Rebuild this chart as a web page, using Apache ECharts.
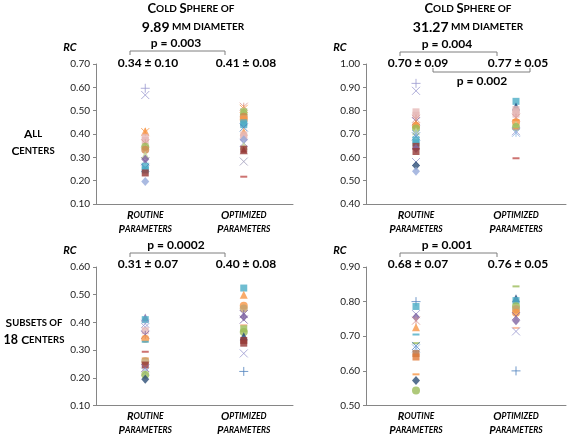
<!DOCTYPE html>
<html><head><meta charset="utf-8">
<script src="https://cdn.jsdelivr.net/npm/echarts@6/dist/echarts.min.js"></script>
<style>html,body{margin:0;padding:0;background:#fff}#c{width:567px;height:436px}</style>
</head><body><div id="c"></div>
<script>
// ---------- DATA ----------
const categories = ['Routine', 'Optimized'];
// Top-left: 9.89 mm, all centers
const tlRoutine    = [0.596,0.567,0.412,0.408,0.386,0.372,0.360,0.345,0.332,0.310,0.292,0.283,0.262,0.255,0.246,0.233,0.196];
const tlRoutineMk  = ['pL','xL','tO','sO','qP','qP','sK','cG','cB','tG','dP','xP','qT','xB','qT','qR','dL'];
const tlOptim      = [0.517,0.508,0.500,0.495,0.485,0.474,0.462,0.448,0.440,0.428,0.410,0.396,0.386,0.375,0.362,0.350,0.335,0.330,0.282,0.217];
const tlOptimMk    = ['sK','sO','tG','qG','hG','cB','cO','qT','qT','xB','tO','qP','qP','dL','xL','tG','qR','tR','xG','hR'];
// Top-right: 31.27 mm, all centers
const trRoutine    = [0.917,0.885,0.795,0.780,0.765,0.755,0.745,0.735,0.724,0.712,0.700,0.690,0.675,0.662,0.647,0.638,0.625,0.580,0.565,0.540];
const trRoutineMk  = ['pL','xL','qP','qP','sK','xP','tO','cO','cG','tG','sB','xB','qT','qT','qR','dP','qR','xL','dB','dL'];
const trOptim      = [0.840,0.818,0.805,0.795,0.785,0.770,0.760,0.750,0.740,0.730,0.722,0.712,0.705,0.596];
const trOptimMk    = ['qT','tB','qP','qP','qP','sK','hO','cO','tG','cG','hO','xL','sB','hR'];
// Bottom-left: 9.89 mm, subset of 18 centers
const blRoutine    = [0.418,0.410,0.395,0.383,0.370,0.355,0.341,0.330,0.294,0.270,0.260,0.246,0.235,0.222,0.211,0.195];
const blRoutineMk  = ['tP','qT','xL','xL','qP','sP','cO','hT','hR','hO','cT','qR','xP','sB','cG','dB'];
const blOptim      = [0.524,0.500,0.460,0.450,0.430,0.420,0.410,0.390,0.377,0.365,0.350,0.335,0.325,0.288,0.223];
const blOptimMk    = ['qT','tO','cO','cT','sP','dP','xP','hS','qG','cG','tB','qR','qR','xL','pB'];
// Bottom-right: 31.27 mm, subset of 18 centers
const brRoutine    = [0.800,0.786,0.764,0.755,0.745,0.726,0.705,0.680,0.672,0.665,0.650,0.640,0.590,0.572,0.543];
const brRoutineMk  = ['pB','qT','xL','dP','sK','tO','hT','hG','xB','sB','qBr','qO','hO','dB','cG'];
const brOptim      = [0.844,0.810,0.803,0.787,0.778,0.768,0.758,0.745,0.724,0.714,0.600];
const brOptimMk    = ['hG','tB','qT','cG','cT','cO','xP','dP','hS','xL','pB'];

const meanLabels = ['0.34 \u00b1 0.10','0.41 \u00b1 0.08','0.70 \u00b1 0.09','0.77 \u00b1 0.05',
                    '0.31 \u00b1 0.07','0.40 \u00b1 0.08','0.68 \u00b1 0.07','0.76 \u00b1 0.05'];
const pLabels = ['p = 0.003','p = 0.004','p = 0.002','p = 0.0002','p = 0.001'];
const yRanges = [[0.1,0.7],[0.4,1.0],[0.1,0.6],[0.5,0.9]];

// ---------- STYLE ----------
const COLORS = {L:'#9a98cf',O:'#f79646',P:'#e6b9b8',K:'#d99694',G:'#9bbb59',B:'#4f81bd',T:'#4bacc6',R:'#953735',
  D:'#2c4d75',b:'#1f497d',C:'#c4a36e',S:'#fab08c',X:'#a09cbc',r:'#c0504d',y:'#b16f45',o:'#e07b39',p:'#8064a2',
  l:'#95a9d9',g:'#c3d69b',c:'#d08a50',s:'#8db4e2'};
const KEYMAP = {pL:['p','L'],xL:['x','L'],tO:['t','O'],sO:['s','O'],qP:['q','P'],sK:['s','K'],cG:['c','G'],cB:['c','c'],
  tG:['t','g'],dP:['d','p'],xP:['x','p'],qT:['q','T'],xB:['x','B'],qR:['q','R'],dL:['d','l'],qG:['q','G'],hG:['h','G'],
  cO:['c','O'],tR:['t','R'],xG:['x','X'],hR:['h','r'],tB:['t','b'],hO:['h','O'],sB:['s','s'],dB:['d','D'],tP:['t','p'],
  sP:['s','p'],hT:['h','T'],cT:['c','C'],hS:['h','S'],pB:['p','B'],qBr:['q','y'],qO:['q','o']};
function marker(key){
  const [shape, ck] = KEYMAP[key]; const col = COLORS[ck];
  switch(shape){
    case 'd': return {symbol:'diamond',symbolSize:[8,9],itemStyle:{color:col}};
    case 'q': return {symbol:'rect',symbolSize:7,itemStyle:{color:col}};
    case 't': return {symbol:'triangle',symbolSize:[8,8],itemStyle:{color:col}};
    case 'c': return {symbol:'circle',symbolSize:8,itemStyle:{color:col}};
    case 'h': return {symbol:'rect',symbolSize:[7,2],itemStyle:{color:col}};
    case 'x': return {symbol:'path://M0,0L10,10M10,0L0,10',symbolSize:8,itemStyle:{color:'rgba(0,0,0,0)',borderColor:col,borderWidth:1}};
    case 's': return {symbol:'path://M0,0L10,10M10,0L0,10M5,0L5,10',symbolSize:8,itemStyle:{color:'rgba(0,0,0,0)',borderColor:col,borderWidth:1}};
    case 'p': return {symbol:'path://M5,0L5,10M0,5L10,5',symbolSize:9,itemStyle:{color:'rgba(0,0,0,0)',borderColor:col,borderWidth:1}};
  }
}
function pts(routine, rMk, optim, oMk){
  const out = [];
  routine.forEach((v,i)=>out.push(Object.assign({value:[0,v]}, marker(rMk[i]))));
  optim.forEach((v,i)=>out.push(Object.assign({value:[1,v]}, marker(oMk[i]))));
  return out;
}

const FONT = 'Lato, "Open Sans", sans-serif';
const grids = [
  {left:96, top:64, width:197, height:140},
  {left:366, top:64, width:200, height:140},
  {left:96, top:267, width:197, height:141},
  {left:366, top:267, width:200, height:141}
];
const xLabelRich = {a:{fontSize:11,fontWeight:'bold',fontStyle:'italic',fontFamily:FONT,color:'#000',lineHeight:14,align:'center'},
                    b:{fontSize:8.5,fontWeight:'bold',fontStyle:'italic',fontFamily:FONT,color:'#000',lineHeight:14,align:'center'}};
const xAxes = grids.map((g,i)=>({type:'category',gridIndex:i,data:categories,boundaryGap:true,
  axisLine:{lineStyle:{color:'#868686',width:1}},axisTick:{show:false},
  axisLabel:{margin:4,interval:0,align:'center',formatter:v=> v==='Routine' ? '{a|R}{b|OUTINE}\n{a|P}{b|ARAMETERS}' : '{a|O}{b|PTIMIZED}\n{a|P}{b|ARAMETERS}', rich:xLabelRich}}));
const yAxes = grids.map((g,i)=>({type:'value',gridIndex:i,min:yRanges[i][0],max:yRanges[i][1],interval:0.1,
  axisLine:{show:true,lineStyle:{color:'#868686',width:1}},axisTick:{show:true,length:3,lineStyle:{color:'#868686'}},
  splitLine:{show:false},
  axisLabel:{fontSize:10,color:'#222',fontFamily:FONT,margin:6,formatter:v=>v.toFixed(2)}}));
const seriesData = [
  pts(tlRoutine,tlRoutineMk,tlOptim,tlOptimMk),
  pts(trRoutine,trRoutineMk,trOptim,trOptimMk),
  pts(blRoutine,blRoutineMk,blOptim,blOptimMk),
  pts(brRoutine,brRoutineMk,brOptim,brOptimMk)
];
const series = seriesData.map((d,i)=>({type:'scatter',xAxisIndex:i,yAxisIndex:i,data:d,animation:false}));

// ---------- ANNOTATIONS ----------
function txt(x,y,text,size,opts){
  return Object.assign({type:'text',x:x,y:y,style:Object.assign({text:text,fontSize:size,fontWeight:'bold',fontFamily:FONT,
    fill:'#000',align:'center',verticalAlign:'middle'}, opts||{})});
}
function rtxt(x,y,text,rich){
  return {type:'text',x:x,y:y,style:{text:text,rich:rich,align:'center',verticalAlign:'middle',fontFamily:FONT}};
}
const sc = {a:{fontSize:13,fontWeight:'bold',fontFamily:FONT,color:'#000'},
            b:{fontSize:10,fontWeight:'bold',fontFamily:FONT,color:'#000'},
            n:{fontSize:14,fontWeight:'bold',fontFamily:FONT,color:'#000'}};
const sr = {a:{fontSize:12,fontWeight:'bold',fontFamily:FONT,color:'#000'},
            b:{fontSize:9.5,fontWeight:'bold',fontFamily:FONT,color:'#000'},
            n:{fontSize:12.5,fontWeight:'bold',fontFamily:FONT,color:'#000'}};
function bracket(x1,x2,y,dir){
  return {type:'polyline',shape:{points:[[x1,y+4*dir],[x1,y],[x2,y],[x2,y+4*dir]]},style:{stroke:'#7f7f7f',lineWidth:1,fill:null}};
}
const graphic = [
  rtxt(191,9,'{a|C}{b|OLD }{a|S}{b|PHERE OF}',sc),
  rtxt(193,27,'{n|9.89}{b| MM DIAMETER}',sc),
  rtxt(468,9,'{a|C}{b|OLD }{a|S}{b|PHERE OF}',sc),
  rtxt(468,27,'{n|31.27}{b| MM DIAMETER}',sc),
  rtxt(33,134,'{a|A}{b|LL}',sr),
  rtxt(33,151,'{a|C}{b|ENTERS}',sr),
  rtxt(34,323,'{a|S}{b|UBSETS OF}',sr),
  rtxt(34,340,'{n|18} {a|C}{b|ENTERS}',sr),
  txt(70,47,'RC',11,{fontStyle:'italic'}),
  txt(340,47,'RC',11,{fontStyle:'italic'}),
  txt(70,250,'RC',11,{fontStyle:'italic'}),
  txt(340,250,'RC',11,{fontStyle:'italic'}),
  // top-left
  txt(176,43,pLabels[0],12), bracket(130,225,51,1),
  txt(148,63,meanLabels[0],12), txt(246,63,meanLabels[1],12),
  // top-right
  txt(447,44,pLabels[1],12), bracket(400,497,52,1),
  txt(418,63,meanLabels[2],12), txt(518,63,meanLabels[3],12),
  bracket(433,530,72,-1), txt(482,81,pLabels[2],12),
  // bottom-left
  txt(176,245,pLabels[3],12), bracket(130,225,253,1),
  txt(148,264,meanLabels[4],12), txt(246,264,meanLabels[5],12),
  // bottom-right
  txt(447,245,pLabels[4],12), bracket(400,497,253,1),
  txt(418,264,meanLabels[6],12), txt(518,264,meanLabels[7],12)
];

const chart = echarts.init(document.getElementById('c'), null, {renderer:'canvas'});
chart.setOption({animation:false,backgroundColor:'#fff',grid:grids,xAxis:xAxes,yAxis:yAxes,series:series,graphic:graphic});
</script></body></html>
